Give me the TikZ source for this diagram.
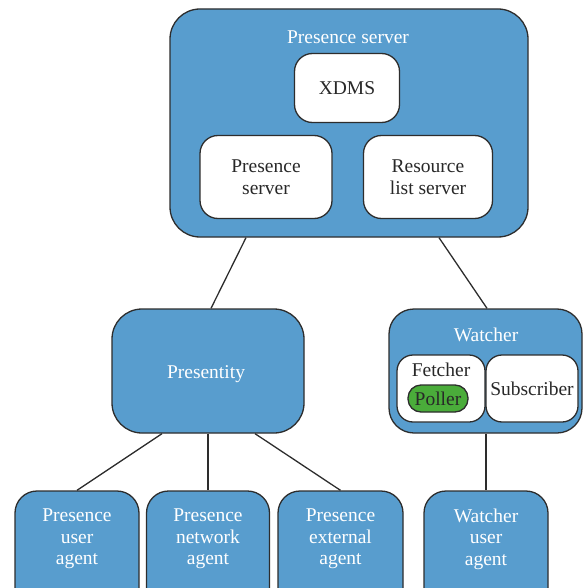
\documentclass[tikz,border=0pt]{standalone}
\usepackage{fontspec}
\setmainfont{Liberation Serif}
\definecolor{boxblue}{RGB}{88,157,206}
\definecolor{pollgreen}{RGB}{74,172,58}
\definecolor{edge}{RGB}{45,45,45}
\definecolor{txt}{RGB}{40,40,40}
\begin{document}
\begin{tikzpicture}[x=1pt,y=-1pt,
  bluebox/.style={draw=edge,line width=1.3pt,fill=boxblue,rounded corners=#1,inner sep=0pt},
  bluebox/.default=22pt,
  whitebox/.style={draw=edge,line width=1.3pt,fill=white,rounded corners=#1,inner sep=0pt},
  whitebox/.default=18pt,
  wlabel/.style={text=white,font=\fontsize{19.5}{21.5}\selectfont,align=center,inner sep=0pt},
  dlabel/.style={text=txt,font=\fontsize{19.5}{21.5}\selectfont,align=center,inner sep=0pt},
  link/.style={draw=edge,line width=1.3pt}]
\useasboundingbox (0,0) rectangle (584,588);
\clip (0,0) rectangle (584,588);
% top server
\node[bluebox=30pt,minimum width=358pt,minimum height=228pt] (ps) at (349,123) {};
\node[wlabel] (pst) at (348,37) {Presence server};
\node[whitebox,minimum width=105pt,minimum height=69pt] (xdms) at (347,88) {};
\node[dlabel] at (xdms) {XDMS};
\node[whitebox,minimum width=132pt,minimum height=83pt] (psin) at (266,177) {};
\node[dlabel] at (psin) {Presence\\server};
\node[whitebox,minimum width=129pt,minimum height=83pt] (rls) at (428,177) {};
\node[dlabel] at (rls) {Resource\\list server};
% presentity
\node[bluebox=30pt,minimum width=192pt,minimum height=124pt] (pres) at (208,371) {};
\node[wlabel] at (206,374) {Presentity};
% watcher
\node[bluebox=25pt,minimum width=193pt,minimum height=124pt] (wat) at (485.5,371) {};
\node[wlabel] (watt) at (486,335) {Watcher};
\node[whitebox=16pt,minimum width=88pt,minimum height=67pt] (fet) at (441,388.5) {};
\node[dlabel] (fett) at (441,370) {Fetcher};
\node[draw=edge,line width=1.3pt,fill=pollgreen,rounded corners=13pt,minimum width=60pt,minimum height=27pt,inner sep=0pt] (pol) at (438,398.5) {};
\node[dlabel] at (pol) {Poller};
\node[whitebox=16pt,minimum width=92pt,minimum height=67pt] (sub) at (532,388.5) {};
\node[dlabel] at (sub) {Subscriber};
% bottom agents
\node[bluebox=22pt,minimum width=124pt,minimum height=130pt] (a1) at (77,556) {};
\node[wlabel] at (77,539) {Presence\\user\\agent};
\node[bluebox=22pt,minimum width=123pt,minimum height=130pt] (a2) at (208,556) {};
\node[wlabel] at (208,539) {Presence\\network\\agent};
\node[bluebox=22pt,minimum width=125pt,minimum height=130pt] (a3) at (340.5,556) {};
\node[wlabel] at (340.5,539) {Presence\\external\\agent};
\node[bluebox=22pt,minimum width=124pt,minimum height=130pt] (a4) at (486,556) {};
\node[wlabel] at (486,539) {Watcher\\user\\agent};
% connectors
\draw[link] ([xshift=-103pt]ps.south) -- ([xshift=3pt]pres.north);
\draw[link] ([xshift=90pt]ps.south) -- ([xshift=1.5pt]wat.north);
\draw[link] ([xshift=-46pt]pres.south) -- (a1.north);
\draw[link] (pres.south) -- (a2.north);
\draw[link] ([xshift=47pt]pres.south) -- (a3.north);
\draw[link] ([xshift=0.5pt]wat.south) -- (a4.north);
\end{tikzpicture}
\end{document}
